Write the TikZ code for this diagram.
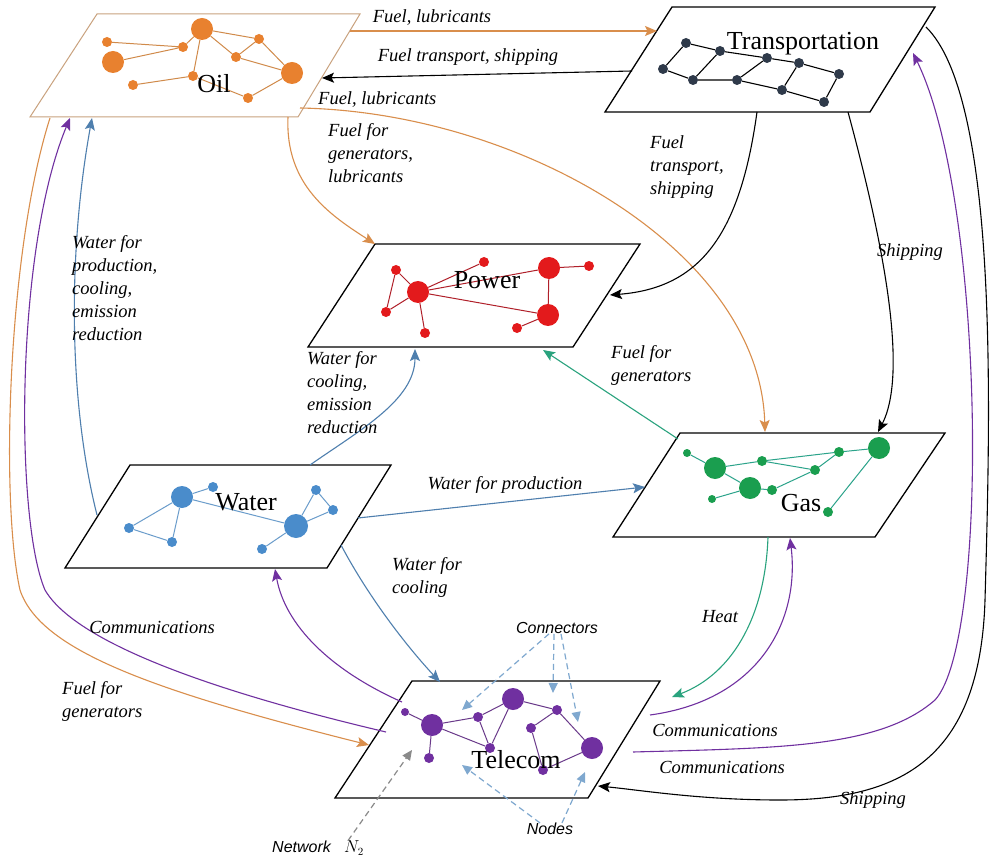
\documentclass[tikz,border=0pt]{standalone}
\usepackage{fontspec}
\setmainfont{Liberation Serif}[ItalicFont={Liberation Serif Italic}]
\setsansfont{Liberation Sans}
\usetikzlibrary{arrows.meta}
\definecolor{oilc}{HTML}{E8812F}
\definecolor{oille}{HTML}{D08A4A}
\definecolor{oilbd}{HTML}{C9A27E}
\definecolor{oill}{HTML}{D98E4C}
\definecolor{bluec}{HTML}{4A8CCB}
\definecolor{bluee}{HTML}{6A9CCB}
\definecolor{bluel}{HTML}{4F7FAE}
\definecolor{greenc}{HTML}{1A9E4F}
\definecolor{greene}{HTML}{2BA38A}
\definecolor{greenl}{HTML}{2AA37E}
\definecolor{purc}{HTML}{7030A0}
\definecolor{pure}{HTML}{6A3A8A}
\definecolor{redc}{HTML}{E31A1C}
\definecolor{rede}{HTML}{B0202A}
\definecolor{navyc}{HTML}{2F3A4A}
\definecolor{dashb}{HTML}{7FA8CF}
\definecolor{dashg}{HTML}{8A8A8A}
\begin{document}
\begin{tikzpicture}[x=1pt,y=-1pt,
  plane/.style={line width=1.3pt, draw=black, fill=white},
  ttl/.style={font=\fontsize{26}{28}\selectfont, inner sep=0},
  lbl/.style={font=\fontsize{18.5}{23}\selectfont\itshape, align=left, inner sep=0},
  albl/.style={font=\fontsize{16}{19}\selectfont\sffamily\itshape, inner sep=0},
  conn/.style={line width=1.1pt, -{Stealth[length=12pt,width=10pt,inset=2.5pt]}},
  ann/.style={line width=1.2pt, dash pattern=on 6pt off 4pt, -{Triangle[length=10pt,width=9pt]}},
  sn/.style={circle, inner sep=0, minimum size=10pt},
  tn/.style={circle, inner sep=0, minimum size=8pt},
  bn/.style={circle, inner sep=0, minimum size=22pt},
]
\fill[white] (0,0) rectangle (992,858);
\useasboundingbox (0,0) rectangle (992,858);

% ---------- planes ----------
\draw[plane, draw=oilbd, line width=1pt] (97,14) -- (360,14) -- (298,117) -- (30,117) -- cycle;
\draw[plane] (672,7) -- (935,7) -- (870,112) -- (605,112) -- cycle;
\draw[plane] (375,244) -- (640,244) -- (573,347) -- (308,347) -- cycle;
\draw[plane] (130,465) -- (391,465) -- (327,568) -- (65,568) -- cycle;
\draw[plane] (680,433) -- (945,433) -- (875,537) -- (613,537) -- cycle;
\draw[plane] (412,681) -- (660,681) -- (588,798) -- (335,798) -- cycle;

% ---------- Oil network ----------
\begin{scope}[every node/.append style={fill=oilc}]
\node[bn] (oA) at (202,29) {};
\node[sn] (o1) at (107,42) {};
\node[bn] (o2) at (113,62) {};
\node[sn] (o3) at (183,47) {};
\node[sn] (o4) at (259,39) {};
\node[sn] (o5) at (236,57) {};
\node[bn] (o6) at (292,73) {};
\node[sn] (o7) at (133,85) {};
\node[sn] (o8) at (193,76) {};
\node[sn] (o9) at (248,98) {};
\end{scope}
\draw[oille, line width=1pt] (o1)--(o3) (o2)--(o3) (o3)--(oA) (oA)--(o4) (oA)--(o5) (oA)--(o8)
  (o4)--(o6) (o5)--(o6) (o4)--(o5) (o7)--(o8) (o8)--(o9) (o9)--(o6);

% ---------- Transportation network ----------
\begin{scope}[every node/.append style={fill=navyc, minimum size=12pt}]
\node[sn] (t1) at (686,43) {};
\node[sn] (t2) at (720,51) {};
\node[sn] (t3) at (767,58) {};
\node[sn] (t4) at (799,63) {};
\node[sn] (t5) at (839,74) {};
\node[sn] (t6) at (663,69) {};
\node[sn] (t7) at (693,80) {};
\node[sn] (t8) at (737,80) {};
\node[sn] (t9) at (782,90) {};
\node[sn] (t10) at (824,102) {};
\end{scope}
\draw[black, line width=1.1pt] (t1)--(t2)--(t3)--(t4)--(t5) (t6)--(t7)--(t8)--(t9)--(t10)
  (t1)--(t6) (t2)--(t7) (t3)--(t8) (t4)--(t9) (t5)--(t10);

% ---------- Power network ----------
\begin{scope}[every node/.append style={fill=redc}]
\node[sn] (p1) at (396,270) {};
\node[sn] (p2) at (386,312) {};
\node[bn] (p3) at (418,292) {};
\node[sn] (p4) at (484,262) {};
\node[sn] (p5) at (425,333) {};
\node[bn] (p6) at (549,268) {};
\node[sn] (p7) at (589,266) {};
\node[bn] (p8) at (548,315) {};
\node[sn] (p9) at (517,328) {};
\end{scope}
\draw[rede, line width=1pt] (p1)--(p3) (p1)--(p2) (p2)--(p3) (p3)--(p4) (p3)--(p5) (p3)--(p6)
  (p3)--(p8) (p6)--(p7) (p6)--(p8) (p8)--(p9);

% ---------- Water network ----------
\begin{scope}[every node/.append style={fill=bluec}]
\node[bn] (w1) at (182,497) {};
\node[sn] (w2) at (213,487) {};
\node[sn] (w3) at (129,528) {};
\node[sn] (w4) at (172,542) {};
\node[bn, minimum size=24pt] (w5) at (296,526) {};
\node[sn] (w6) at (316,490) {};
\node[sn] (w7) at (333,510) {};
\node[sn] (w8) at (262,549) {};
\end{scope}
\draw[bluee, line width=1pt] (w1)--(w2) (w1)--(w3) (w1)--(w4) (w3)--(w4) (w1)--(w5)
  (w5)--(w6) (w6)--(w7) (w5)--(w7) (w5)--(w8);

% ---------- Gas network ----------
\begin{scope}[every node/.append style={fill=greenc}]
\node[tn] (g1) at (687,453) {};
\node[bn] (g2) at (715,468) {};
\node[sn] (g3) at (762,461) {};
\node[sn] (g4) at (839,452) {};
\node[bn] (g5) at (879,448) {};
\node[sn] (g6) at (815,470) {};
\node[bn] (g7) at (750,488) {};
\node[sn] (g8) at (772,490) {};
\node[tn] (g9) at (712,499) {};
\node[sn] (g10) at (828,512) {};
\end{scope}
\draw[greene, line width=1pt] (g1)--(g2) (g2)--(g3) (g3)--(g4) (g4)--(g5) (g3)--(g6) (g2)--(g7)
  (g7)--(g8) (g8)--(g6) (g6)--(g4) (g9)--(g7) (g5)--(g10);

% ---------- Telecom network ----------
\begin{scope}[every node/.append style={fill=purc}]
\node[tn] (c1) at (405,712) {};
\node[bn] (c2) at (432,725) {};
\node[sn] (c3) at (429,758) {};
\node[sn] (c4) at (478,717) {};
\node[bn] (c5) at (513,699) {};
\node[sn] (c6) at (490,748) {};
\node[sn] (c7) at (531,728) {};
\node[sn] (c8) at (557,710) {};
\node[bn] (c9) at (592,748) {};
\node[sn] (c10) at (543,770) {};
\end{scope}
\draw[pure, line width=1pt] (c1)--(c2) (c2)--(c3) (c2)--(c4) (c2)--(c6) (c4)--(c5) (c4)--(c6)
  (c5)--(c6) (c5)--(c8) (c7)--(c8) (c7)--(c10) (c8)--(c9) (c9)--(c10);

% ---------- titles ----------
\node[ttl] (oilT) at (214,84) {Oil};
\node[ttl] (trT) at (803,44) {Transportation};
\node[ttl] (powT) at (487,280) {Power};
\node[ttl] (watT) at (246,502) {Water};
\node[ttl] (gasT) at (801,503) {Gas};
\node[ttl] (telT) at (516,760) {Telecom};

% ---------- connector end points ----------
\coordinate (oilR1) at (350,31);
\coordinate (trL1) at (657,31);
\coordinate (trL2) at (632,71);
\coordinate (oilR2) at (322,78);
\coordinate (oilR3) at (300,108);
\coordinate (gasT1) at (765,432);
\coordinate (oilB1) at (288,117);
\coordinate (powL1) at (375,244);
\coordinate (trB1) at (757,112);
\coordinate (powR1) at (610,295);
\coordinate (trB2) at (848,112);
\coordinate (gasT2) at (878,432);
\coordinate (trR1) at (926,27);
\coordinate (telR1) at (598,786);
\coordinate (telR2) at (633,752);
\coordinate (trR2) at (913,53);
\coordinate (telR3) at (650,715);
\coordinate (gasB1) at (790,538);
\coordinate (gasB2) at (768,537);
\coordinate (telR4) at (672,697);
\coordinate (gasL1) at (678,439);
\coordinate (powB1) at (543,350);
\coordinate (watR1) at (358,518);
\coordinate (gasL2) at (645,487);
\coordinate (watT1) at (310,465);
\coordinate (powB2) at (415,349);
\coordinate (watR2) at (341,545);
\coordinate (telT1) at (440,682);
\coordinate (watL1) at (97,515);
\coordinate (oilB2) at (92,118);
\coordinate (telL1) at (402,702);
\coordinate (watB1) at (275,569);
\coordinate (telL2) at (386,732);
\coordinate (oilB3) at (70,118);
\coordinate (oilB4) at (50,118);
\coordinate (telL3) at (369,745);

% ---------- connectors ----------
\draw[conn, oill] (oilR1) -- (trL1);
\draw[conn, black] (trL2) -- (oilR2);
\draw[conn, oill] (oilR3) .. controls (520,112) and (760,250) .. (gasT1);
\draw[conn, oill] (oilB1) .. controls (285,185) and (330,215) .. (powL1);
\draw[conn, black] (trB1) .. controls (740,235) and (700,288) .. (powR1);
\draw[conn, black] (trB2) .. controls (880,230) and (910,370) .. (gasT2);
\draw[conn, black] (trR1) .. controls (1000,100) and (990,420) .. (985,600)
   .. controls (980,760) and (900,800) .. (780,800)
   .. controls (700,800) and (640,790) .. (telR1);
\draw[conn, purc] (telR2) .. controls (780,748) and (880,748) .. (935,700)
   .. controls (990,640) and (985,200) .. (trR2);
\draw[conn, purc] (telR3) .. controls (760,700) and (800,620) .. (gasB1);
\draw[conn, greenl] (gasB2) .. controls (765,620) and (730,675) .. (telR4);
\draw[conn, greenl] (gasL1) -- (powB1);
\draw[conn, bluel] (watR1) -- (gasL2);
\draw[conn, bluel] (watT1) .. controls (360,430) and (415,400) .. (powB2);
\draw[conn, bluel] (watR2) .. controls (370,600) and (410,650) .. (telT1);
\draw[conn, bluel] (watL1) .. controls (68,400) and (68,250) .. (oilB2);
\draw[conn, purc] (telL1) .. controls (330,670) and (285,625) .. (watB1);
\draw[conn, purc] (telL2) .. controls (250,700) and (80,650) .. (45,590)
   .. controls (15,520) and (15,250) .. (oilB3);
\draw[conn, oill] (oilB4) .. controls (8,250) and (0,500) .. (20,590)
   .. controls (40,650) and (150,690) .. (telL3);

% ---------- labels ----------
\node[lbl] (l1) at (432,18) {Fuel, lubricants};
\node[lbl] (l2) at (468,57) {Fuel transport, shipping};
\node[lbl, anchor=west] (l3) at (318,100) {Fuel, lubricants};
\node[lbl, anchor=north west] (l4) at (328,123) {Fuel for\\generators,\\lubricants};
\node[lbl, anchor=north west] (l5) at (650,135) {Fuel\\transport,\\shipping};
\node[lbl] (l6) at (910,252) {Shipping};
\node[lbl, anchor=north west] (l7) at (72,235) {Water for\\production,\\cooling,\\emission\\reduction};
\node[lbl, anchor=north west] (l8) at (307,351) {Water for\\cooling,\\emission\\reduction};
\node[lbl, anchor=north west] (l9) at (611,345) {Fuel for\\generators};
\node[lbl] (l10) at (505,485) {Water for production};
\node[lbl, anchor=north west] (l11) at (392,557) {Water for\\cooling};
\node[lbl] (l12) at (720,617) {Heat};
\node[lbl] (l13) at (152,627) {Communications};
\node[lbl, anchor=north west] (l14) at (62,681) {Fuel for\\generators};
\node[lbl] (l15) at (715,730) {Communications};
\node[lbl] (l16) at (722,767) {Communications};
\node[lbl] (l17) at (873,800) {Shipping};

% ---------- annotations ----------
\node[albl] (connL) at (557,628) {Connectors};
\node[albl] (nodesL) at (550,829) {Nodes};
\node[albl] (netL) at (318,848) {Network\;\; $N_2$};
\coordinate (ca1) at (462,710);
\coordinate (ca2) at (553,693);
\coordinate (ca3) at (578,722);
\coordinate (na1) at (462,765);
\coordinate (na2) at (585,772);
\coordinate (nt1) at (412,750);
\draw[ann, dashb] ([xshift=-8pt]connL.south) -- (ca1);
\draw[ann, dashb] ([xshift=-3pt]connL.south) -- (ca2);
\draw[ann, dashb] ([xshift=4pt]connL.south) -- (ca3);
\draw[ann, dashb] ([xshift=-10pt]nodesL.north) -- (na1);
\draw[ann, dashb] ([xshift=12pt]nodesL.north) -- (na2);
\draw[ann, dashg] ([xshift=30pt]netL.north) -- (nt1);
\end{tikzpicture}
\end{document}
